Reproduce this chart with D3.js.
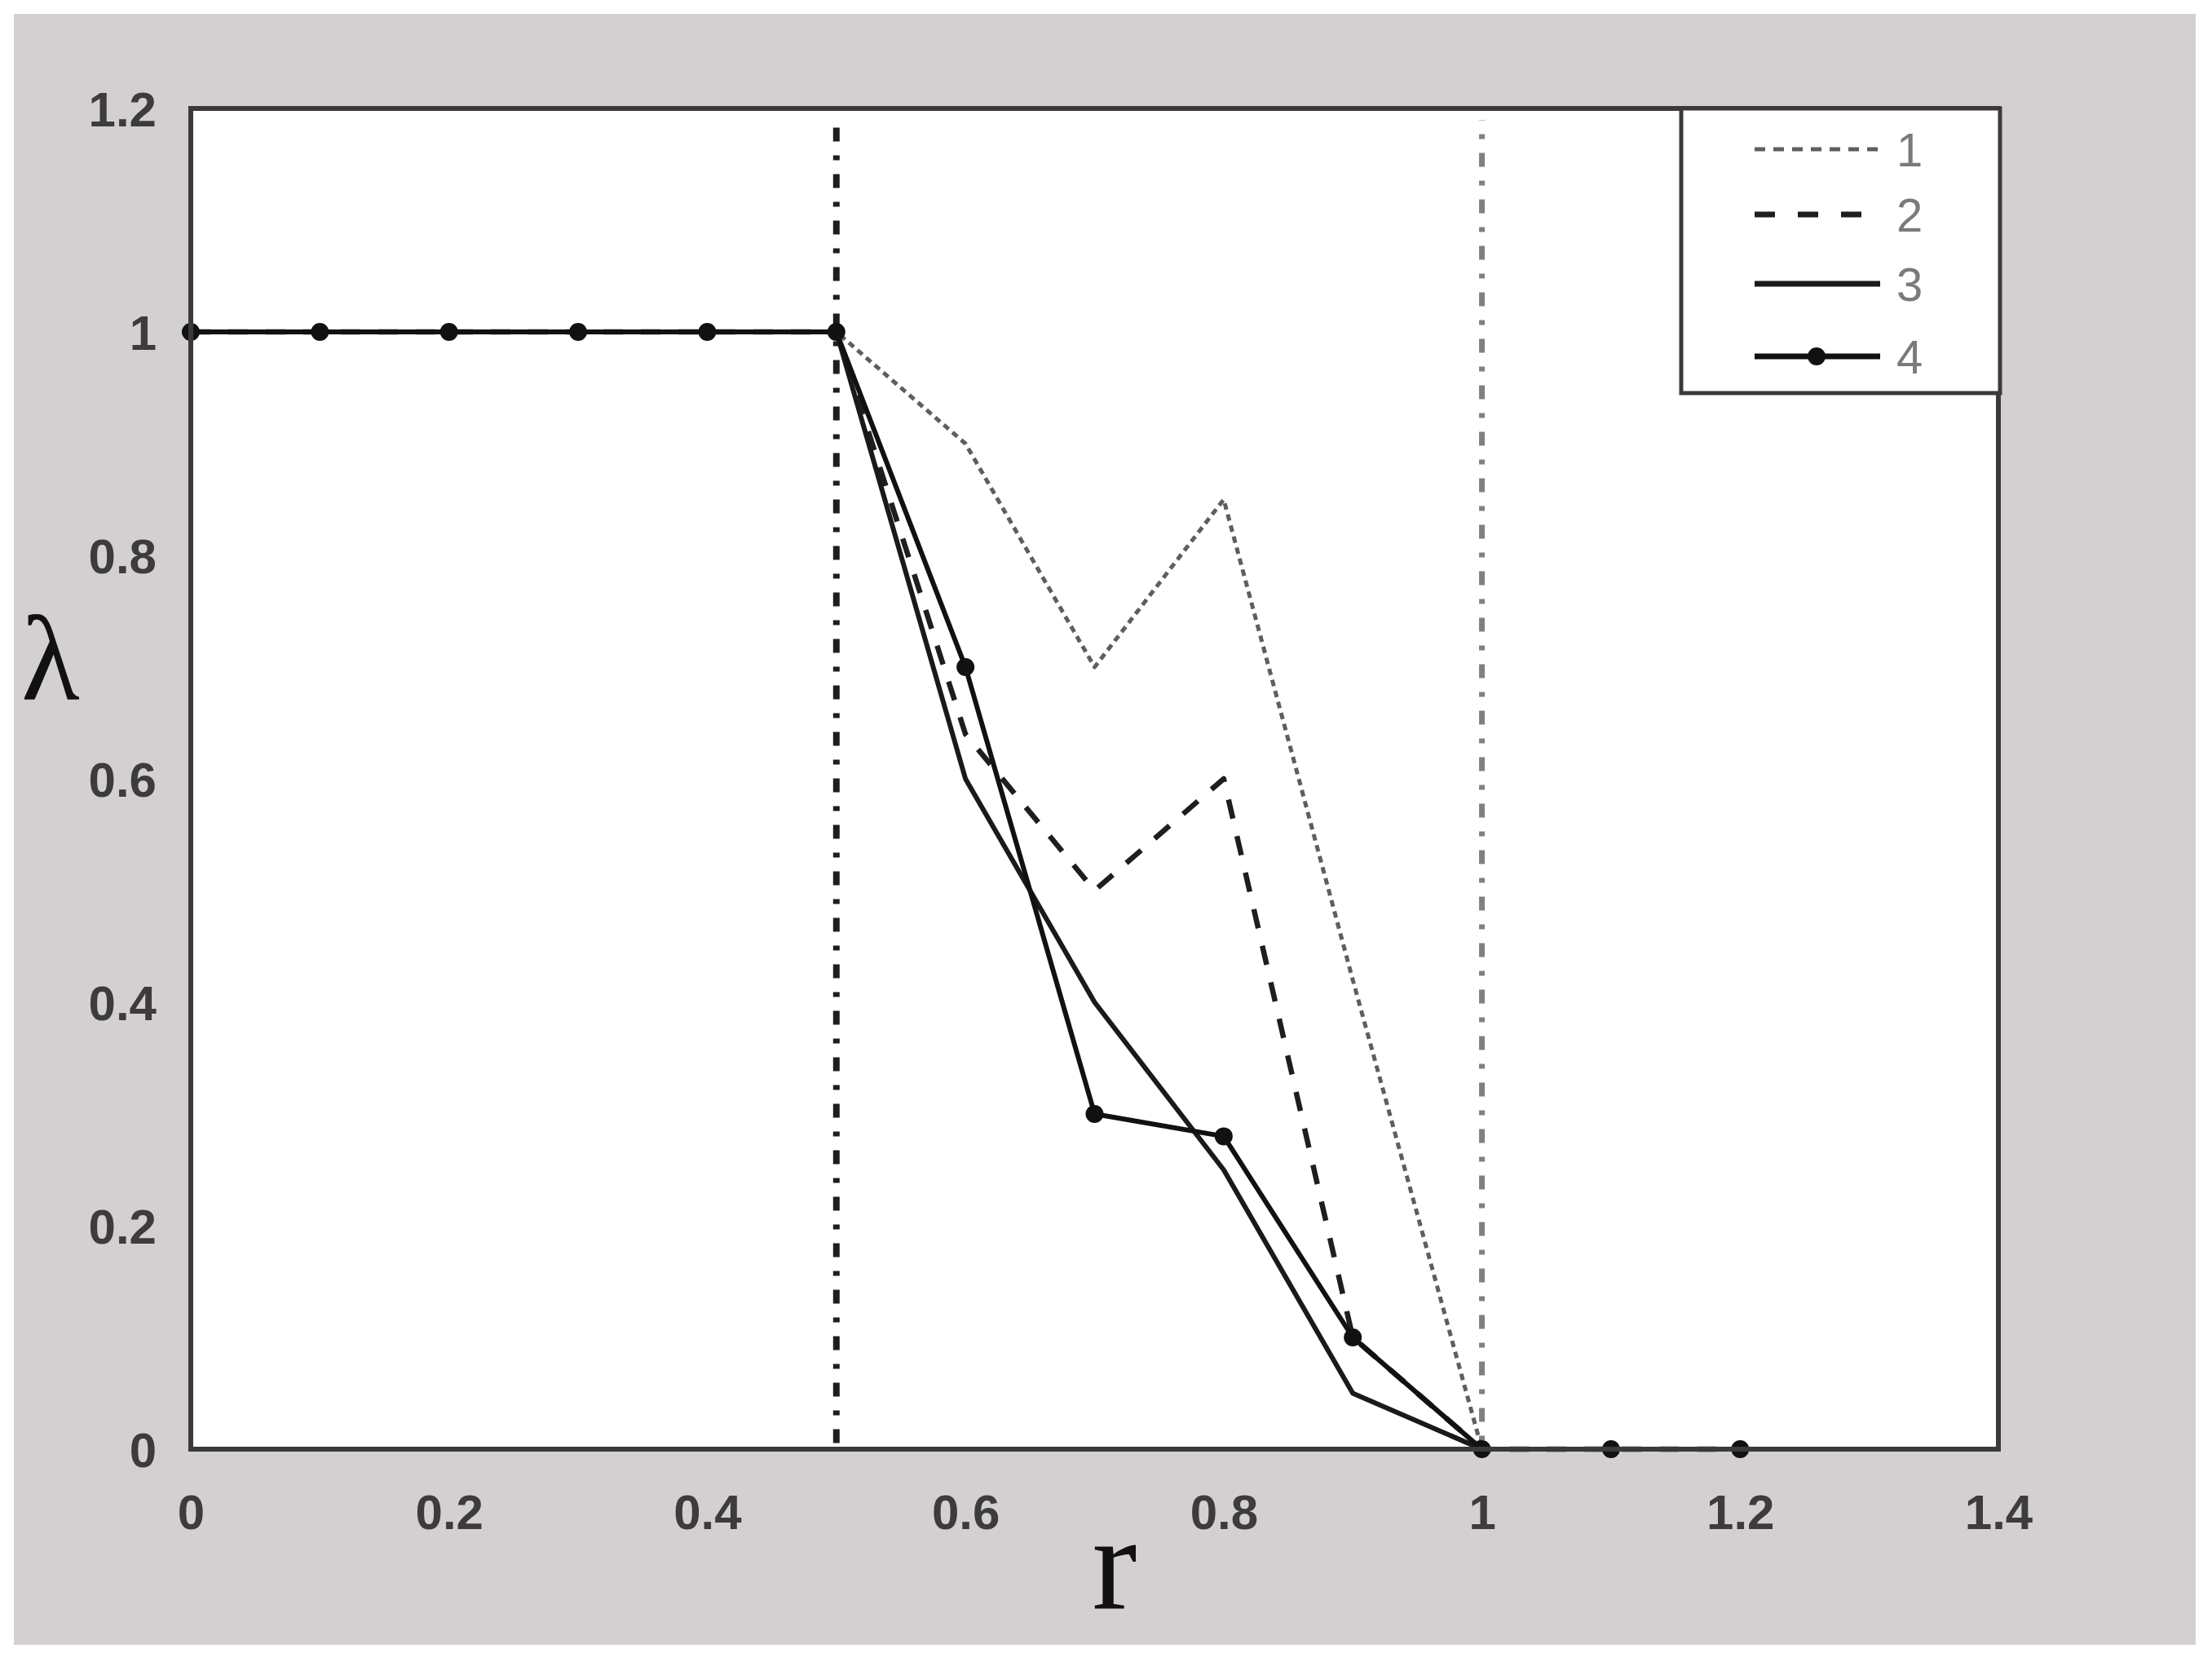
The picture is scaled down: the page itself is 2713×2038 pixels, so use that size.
<!DOCTYPE html>
<html>
<head>
<meta charset="utf-8">
<script src="https://cdn.jsdelivr.net/npm/d3@7"></script>
<style>
  html, body { margin: 0; padding: 0; background: #ffffff; }
  svg { display: block; }
</style>
</head>
<body>
<svg id="chart" width="2713" height="2038"></svg>
<script>
// ---- data ----
const rValues = [0, 0.1, 0.2, 0.3, 0.4, 0.5, 0.6, 0.7, 0.8, 0.9, 1.0, 1.1, 1.2];
const series1 = [1, 1, 1, 1, 1, 1, 0.90, 0.70, 0.85, 0.42, 0, 0, 0];
const series2 = [1, 1, 1, 1, 1, 1, 0.64, 0.50, 0.60, 0.10, 0, 0, 0];
const series3 = [1, 1, 1, 1, 1, 1, 0.60, 0.40, 0.25, 0.05, 0, 0, 0];
const series4 = [1, 1, 1, 1, 1, 1, 0.70, 0.30, 0.28, 0.10, 0, 0, 0];
const seriesNames = ["1", "2", "3", "4"];
const refLines = [0.5, 1.0];
const xTicks = [0, 0.2, 0.4, 0.6, 0.8, 1, 1.2, 1.4];
const yTicks = [0, 0.2, 0.4, 0.6, 0.8, 1, 1.2];
const xLabel = "r";
const yLabel = "λ";

// ---- layout ----
const svg = d3.select("#chart");
const x = d3.scaleLinear().domain([0, 1.4]).range([234, 2451]);
const y = d3.scaleLinear().domain([0, 1.2]).range([1777, 133]);

// grey figure background
svg.append("rect").attr("x", 17).attr("y", 17).attr("width", 2676).attr("height", 2000)
  .attr("fill", "#d4d0d1");

// plot area
svg.append("rect")
  .attr("x", x(0)).attr("y", y(1.2))
  .attr("width", x(1.4) - x(0)).attr("height", y(0) - y(1.2))
  .attr("fill", "#ffffff");

// reference vertical dash-dot lines
const refStyles = [
  { color: "#1e1e1e", width: 8, offset: 53.5 },
  { color: "#808080", width: 7, offset: 16.5 }
];
svg.selectAll("line.ref").data(refLines).enter().append("line")
  .attr("class", "ref")
  .attr("x1", d => x(d)).attr("x2", d => x(d))
  .attr("y1", (d, i) => i === 0 ? 153 : 147)
  .attr("y2", y(0))
  .attr("stroke", (d, i) => refStyles[i].color)
  .attr("stroke-width", (d, i) => refStyles[i].width)
  .attr("stroke-dasharray", "17,17,6,17")
  .attr("stroke-dashoffset", (d, i) => refStyles[i].offset);

// series
const allSeries = [series1, series2, series3, series4];
const styles = [
  { stroke: "#5e5e5e", width: 5, dash: "8,6" },
  { stroke: "#1e1e1e", width: 6.5, dash: "24,22" },
  { stroke: "#1a1a1a", width: 6, dash: null },
  { stroke: "#111111", width: 6, dash: null, dots: true }
];
const line = d3.line().x(d => x(d[0])).y(d => y(d[1]));

allSeries.forEach((vals, i) => {
  const pts = rValues.map((r, k) => [r, vals[k]]);
  const st = styles[i];
  svg.append("path")
    .datum(pts)
    .attr("d", line)
    .attr("fill", "none")
    .attr("stroke", st.stroke)
    .attr("stroke-width", st.width)
    .attr("stroke-linejoin", "round")
    .attr("stroke-dasharray", st.dash);
  if (st.dots) {
    svg.selectAll("circle.s" + i).data(pts).enter().append("circle")
      .attr("class", "s" + i)
      .attr("cx", d => x(d[0])).attr("cy", d => y(d[1]))
      .attr("r", 11).attr("fill", st.stroke);
  }
});

// frame
svg.append("rect")
  .attr("x", x(0)).attr("y", y(1.2))
  .attr("width", x(1.4) - x(0)).attr("height", y(0) - y(1.2))
  .attr("fill", "none").attr("stroke", "#3a3a3a").attr("stroke-width", 6);

// axes
const tickFont = "'Liberation Sans', Arial, sans-serif";
const xAxis = svg.append("g").attr("transform", `translate(0,${y(0)})`)
  .call(d3.axisBottom(x).tickValues(xTicks).tickSize(0).tickFormat(d => String(+d.toFixed(1))));
xAxis.select(".domain").remove();
xAxis.selectAll("text")
  .attr("y", 98).attr("dy", 0)
  .attr("font-family", tickFont).attr("font-size", 60).attr("font-weight", "bold")
  .attr("fill", "#3c3c3c");

const yAxis = svg.append("g").attr("transform", `translate(${x(0)},0)`)
  .call(d3.axisLeft(y).tickValues(yTicks).tickSize(0).tickPadding(42).tickFormat(d => String(+d.toFixed(1))));
yAxis.select(".domain").remove();
yAxis.selectAll("text")
  .attr("dy", "0.36em")
  .attr("font-family", tickFont).attr("font-size", 60).attr("font-weight", "bold")
  .attr("fill", "#3c3c3c");

// axis titles
svg.append("text").attr("x", 1367).attr("y", 1972).attr("text-anchor", "middle")
  .attr("font-family", "'Liberation Serif', 'Times New Roman', serif").attr("font-size", 165)
  .attr("fill", "#111").text(xLabel);
svg.append("text").attr("x", 62).attr("y", 857).attr("text-anchor", "middle")
  .attr("font-family", "'Liberation Serif', 'Times New Roman', serif").attr("font-size", 148)
  .attr("fill", "#111").text(yLabel);

// legend
const lg = svg.append("g");
lg.append("rect").attr("x", 2062).attr("y", 133).attr("width", 391).attr("height", 349)
  .attr("fill", "#ffffff").attr("stroke", "#3a3a3a").attr("stroke-width", 5);
const legendY = [183, 263, 348, 437];
seriesNames.forEach((name, i) => {
  const st = styles[i];
  lg.append("line")
    .attr("x1", 2152).attr("x2", 2306)
    .attr("y1", legendY[i]).attr("y2", legendY[i])
    .attr("stroke", st.stroke).attr("stroke-width", i === 0 ? 5 : 7)
    .attr("stroke-dasharray", i === 0 ? "13,10" : (i === 1 ? "25,28" : null));
  if (st.dots) {
    lg.append("circle").attr("cx", 2228).attr("cy", legendY[i]).attr("r", 11).attr("fill", st.stroke);
  }
  lg.append("text").attr("x", 2326).attr("y", legendY[i]).attr("dy", "0.36em")
    .attr("font-family", tickFont).attr("font-size", 58)
    .attr("fill", "#7a7a7a").text(name);
});
</script>
</body>
</html>
